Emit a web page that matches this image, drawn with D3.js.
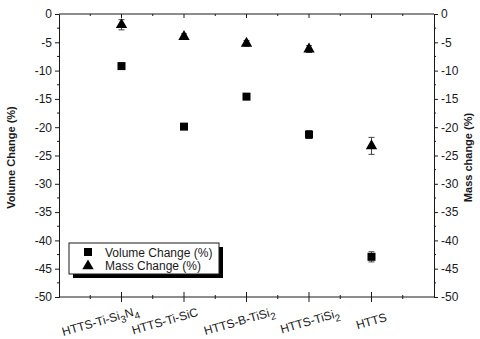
<!DOCTYPE html>
<html><head><meta charset="utf-8">
<script src="https://cdn.jsdelivr.net/npm/d3@7"></script>
<style>body{margin:0;background:#fff}svg{display:block;font-family:Arial,"Liberation Sans",sans-serif}</style>
</head><body><svg id="c" width="480" height="339"></svg>
<script>
// data
const categories = [
  [{t:"HTTS-Ti-Si"},{t:"3",sub:true},{t:"N"},{t:"4",sub:true}],
  [{t:"HTTS-Ti-SiC"}],
  [{t:"HTTS-B-TiSi"},{t:"2",sub:true}],
  [{t:"HTTS-TiSi"},{t:"2",sub:true}],
  [{t:"HTTS"}]
];
const volumeChange = [-9.2, -19.9, -14.6, -21.3, -42.9];
const volumeErr    = [0.3, 0.3, 0.3, 0.7, 0.9];
const massChange   = [-1.9, -4.0, -5.2, -6.2, -23.3];
const massErr      = [0.9, 0.5, 0.5, 0.6, 1.5];
const yTicks = [-50,-45,-40,-35,-30,-25,-20,-15,-10,-5,0];
const legendLabels = ["Volume Change (%)", "Mass Change (%)"];

const svg = d3.select("#c");
const L = 59, R = 434, T = 14, B = 297;
const x = d3.scaleLinear().domain([0, categories.length + 1]).range([L, R]);
const y = d3.scaleLinear().domain([-50, 0]).range([B, T]);
const ink = "#1a1a1a";

// minor ticks
const yMinor = d3.range(-47.5, 0, 5);
const xMajor = d3.range(1, categories.length + 1);
const xMinor = d3.range(0.5, categories.length + 1, 1);

// left axis
const gl = svg.append("g").attr("transform", `translate(${L},0)`)
  .call(d3.axisLeft(y).tickValues(yTicks).tickSize(4).tickPadding(3).tickFormat(d => String(d)));
gl.append("g").selectAll("line").data(yMinor).join("line")
  .attr("x1", 0).attr("x2", -2).attr("y1", d => y(d)).attr("y2", d => y(d)).attr("stroke", ink);
// right axis
const gr = svg.append("g").attr("transform", `translate(${R},0)`)
  .call(d3.axisRight(y).tickValues(yTicks).tickSize(4).tickPadding(3).tickFormat(d => String(d)));
gr.append("g").selectAll("line").data(yMinor).join("line")
  .attr("x1", 0).attr("x2", 2).attr("y1", d => y(d)).attr("y2", d => y(d)).attr("stroke", ink);
[gl, gr].forEach(g => {
  g.selectAll("text").attr("font-size", 12).attr("fill", ink).attr("font-family", "Arial, 'Liberation Sans', sans-serif");
  g.selectAll("line").attr("stroke", ink);
  g.select(".domain").attr("stroke", ink);
});

// bottom axis
const gb = svg.append("g").attr("transform", `translate(0,${B})`);
gb.append("line").attr("x1", L).attr("x2", R).attr("stroke", ink);
gb.selectAll("line.maj").data(xMajor).join("line").attr("class","maj")
  .attr("x1", d => x(d)).attr("x2", d => x(d)).attr("y1", -5).attr("y2", 5).attr("stroke", ink);
gb.selectAll("line.min").data(xMinor).join("line").attr("class","min")
  .attr("x1", d => x(d)).attr("x2", d => x(d)).attr("y1", -2).attr("y2", 2).attr("stroke", ink);
// top axis
const gt = svg.append("g").attr("transform", `translate(0,${T})`);
gt.append("line").attr("x1", L).attr("x2", R).attr("stroke", ink);
gt.selectAll("line.maj").data(xMajor).join("line").attr("class","maj")
  .attr("x1", d => x(d)).attr("x2", d => x(d)).attr("y1", 0).attr("y2", 4).attr("stroke", ink);
gt.selectAll("line.min").data(xMinor).join("line").attr("class","min")
  .attr("x1", d => x(d)).attr("x2", d => x(d)).attr("y1", 0).attr("y2", 2).attr("stroke", ink);

// category labels
const labelDx = [-20, -18, -6, 2, 1];
categories.forEach((parts, i) => {
  const t = svg.append("text")
    .attr("transform", `translate(${x(i + 1) + labelDx[i]},${325}) rotate(-16)`)
    .attr("text-anchor", "middle").attr("font-size", 12).attr("fill", ink);
  parts.forEach(p => {
    const s = t.append("tspan").text(p.t);
    if (p.sub) s.attr("font-size", 10).attr("dy", 4);
    else if (t.selectAll("tspan").size() > 1) s.attr("dy", -4);
  });
});

// axis titles
svg.append("text").attr("transform", `translate(15,${(T + B) / 2 + 2}) rotate(-90)`)
  .attr("text-anchor", "middle").attr("font-size", 11).attr("font-weight", "bold").attr("fill", ink)
  .text("Volume Change (%)");
svg.append("text").attr("transform", `translate(472,${(T + B) / 2 + 2}) rotate(-90)`)
  .attr("text-anchor", "middle").attr("font-size", 11).attr("font-weight", "bold").attr("fill", ink)
  .text("Mass change (%)");

// error bars
function errBars(vals, errs) {
  const g = svg.append("g").attr("stroke", "#444").attr("stroke-width", 1);
  vals.forEach((v, i) => {
    const cx = x(i + 1);
    g.append("line").attr("x1", cx).attr("x2", cx).attr("y1", y(v - errs[i])).attr("y2", y(v + errs[i]));
    [v - errs[i], v + errs[i]].forEach(e =>
      g.append("line").attr("x1", cx - 3).attr("x2", cx + 3).attr("y1", y(e)).attr("y2", y(e)));
  });
}
errBars(volumeChange, volumeErr);
errBars(massChange, massErr);

const sq = d3.symbol().type(d3.symbolSquare).size(64);
const tri = d3.symbol().type(d3.symbolTriangle).size(56);
svg.append("g").selectAll("path").data(volumeChange).join("path")
  .attr("d", sq).attr("transform", (d, i) => `translate(${x(i + 1)},${y(d)})`).attr("fill", "#000");
svg.append("g").selectAll("path").data(massChange).join("path")
  .attr("d", tri).attr("transform", (d, i) => `translate(${x(i + 1)},${y(d)})`).attr("fill", "#000");

// legend
const lg = svg.append("g");
lg.append("rect").attr("x", 73).attr("y", 247).attr("width", 150).attr("height", 31).attr("fill", "#000");
lg.append("rect").attr("x", 69).attr("y", 243).attr("width", 150).attr("height", 31)
  .attr("fill", "#fff").attr("stroke", ink);
lg.append("path").attr("d", sq).attr("transform", "translate(88,252)").attr("fill", "#000");
lg.append("path").attr("d", tri).attr("transform", "translate(88,266)").attr("fill", "#000");
legendLabels.forEach((l, i) => lg.append("text").attr("x", 105).attr("y", 256.5 + i * 13.5)
  .attr("font-size", 12).attr("fill", ink).text(l));
</script></body></html>
